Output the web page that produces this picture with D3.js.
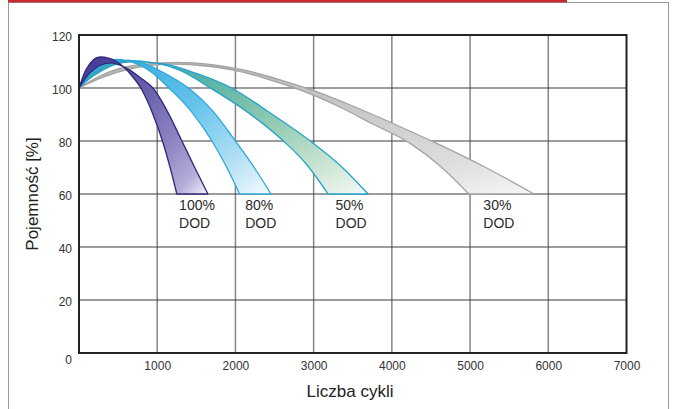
<!DOCTYPE html>
<html>
<head>
<meta charset="utf-8">
<script src="https://cdn.jsdelivr.net/npm/d3@7"></script>
<style>
body { margin: 0; background: #fff; }
text { font-family: Arial, "Liberation Sans", sans-serif; fill: #333; }
</style>
</head>
<body>
<script>
const width = 676, height = 409;

// axis ticks
const xTicks = [1000, 2000, 3000, 4000, 5000, 6000, 7000];
const yTicks = [0, 20, 40, 60, 80, 100, 120];

// capacity [%] vs cycles (each band = inner + outer edge)
const dod100Inner = [[0,100],[90,107],[270,111.7],[480,110],[650,105.5],[790,100],[940,90.5],[1067,80],[1165,70],[1251,60]];
const dod100Outer = [[0,100],[130,105.5],[400,109.5],[600,107.6],[780,104],[950,99.8],[1130,91.2],[1306,80.6],[1480,70],[1648,60]];
const dod80Inner  = [[0,100],[130,106],[480,110.8],[750,109],[950,105.5],[1150,100],[1440,91],[1700,80],[1890,70],[2053,60]];
const dod80Outer  = [[0,100],[150,105.5],[580,110.5],[850,109],[1100,105.5],[1400,100],[1720,91],[2000,80],[2240,70],[2454,60]];
const dod50Inner  = [[0,100],[150,105],[600,110.4],[1000,109.3],[1300,106.5],[1680,100],[2150,91],[2613,80],[2900,71.5],[3184,60]];
const dod50Outer  = [[0,100],[180,104.5],[680,110],[1100,109],[1500,105.5],[1950,100],[2450,90.5],[2958,80],[3350,70.5],[3697,60]];
const dod30Inner  = [[0,100],[300,104],[700,107.5],[1200,109],[1650,108.2],[2050,106.3],[2450,103],[2850,99],[3300,93.3],[3750,86.5],[4238,79],[4620,70.5],[4985,60]];
const dod30Outer  = [[0,100],[300,105],[700,108.5],[1250,109.7],[1700,108.8],[2100,106.8],[2550,103.3],[3000,99],[3500,93.2],[4000,86.8],[4580,79],[5200,70],[5817,60]];

const bandNames  = ["30%", "50%", "80%", "100%"];
const bandLabelX = [5170, 3280, 2125, 1280];

var svg = d3.select("body").append("svg")
    .attr("width", width)
    .attr("height", height);

// frame + red rule on top
svg.append("rect")
    .attr("x", 8.5).attr("y", 2.5)
    .attr("width", 660).attr("height", 430)
    .attr("fill", "none").attr("stroke", "#9a9a9a").attr("stroke-width", 1);
svg.append("rect")
    .attr("x", 8).attr("y", 0)
    .attr("width", 559).attr("height", 2.4)
    .attr("fill", "#c62a2c");

var x = d3.scaleLinear().domain([0, 7000]).range([79, 626.5]);
var y = d3.scaleLinear().domain([0, 120]).range([353, 35]);

// grid
svg.append("g").selectAll("line")
    .data(xTicks.slice(0, -1))
    .enter().append("line")
    .attr("x1", d => x(d)).attr("x2", d => x(d))
    .attr("y1", y(0)).attr("y2", y(120))
    .attr("stroke", "#858585").attr("stroke-width", 1.5);
svg.append("g").selectAll("line")
    .data(yTicks.slice(1, -1))
    .enter().append("line")
    .attr("x1", x(0)).attr("x2", x(7000))
    .attr("y1", d => y(d)).attr("y2", d => y(d))
    .attr("stroke", "#3a3a3a").attr("stroke-width", 1.2);

// gradients
var defs = svg.append("defs");
var gradStops = [
    [[0, "#b2b2b2"], [0.5, "#c9c9c9"], [0.8, "#dedede"], [1, "#f7f7f7"]],
    [[0, "#2aa2b8"], [0.35, "#62b8a6"], [0.62, "#9dd0b8"], [0.85, "#d2e8d9"], [1, "#f6faf6"]],
    [[0, "#2aa6dd"], [0.45, "#62c2ea"], [0.75, "#aadcf3"], [1, "#f5fbfe"]],
    [[0, "#3f3790"], [0.4, "#6b62ae"], [0.7, "#918ac5"], [0.88, "#b5b0da"], [1, "#f5f4fb"]]
];
var strokes = ["#a3a3a3", "#24a2c8", "#2ea6d9", "#2f2879"];
gradStops.forEach(function(stops, i) {
    var g = defs.append("linearGradient")
        .attr("id", "band" + i)
        .attr("x1", 0).attr("y1", 0).attr("x2", 1).attr("y2", 1);
    stops.forEach(s => g.append("stop").attr("offset", s[0]).attr("stop-color", s[1]));
});

var line = d3.line()
    .x(d => x(d[0]))
    .y(d => y(d[1]))
    .curve(d3.curveMonotoneX);

var bands = [
    [dod30Inner, dod30Outer],
    [dod50Inner, dod50Outer],
    [dod80Inner, dod80Outer],
    [dod100Inner, dod100Outer]
];

svg.append("g").selectAll("path")
    .data(bands)
    .enter().append("path")
    .attr("d", d => line(d[0]) + line(d[1].slice().reverse()).replace("M", "L") + "Z")
    .attr("fill", (d, i) => "url(#band" + i + ")")
    .attr("stroke", (d, i) => strokes[i])
    .attr("stroke-width", 1.3)
    .attr("stroke-linejoin", "round");

// plot border
svg.append("rect")
    .attr("x", x(0)).attr("y", y(120))
    .attr("width", x(7000) - x(0)).attr("height", y(0) - y(120))
    .attr("fill", "none").attr("stroke", "#222").attr("stroke-width", 2);

// DOD labels
var lbl = svg.append("g").selectAll("text")
    .data(bandNames)
    .enter().append("text")
    .attr("x", (d, i) => x(bandLabelX[i]))
    .attr("y", y(60) + 16)
    .style("font-size", "14px")
    .style("fill", "#2a2a2a");
lbl.append("tspan").text(d => d);
lbl.append("tspan")
    .attr("x", (d, i) => x(bandLabelX[i]))
    .attr("dy", 18)
    .text("DOD");

// axes
var yAxis = svg.append("g")
    .attr("transform", "translate(" + x(0) + ",0)")
    .call(d3.axisLeft(y).tickValues(yTicks).tickSize(0).tickPadding(7));
var xAxis = svg.append("g")
    .attr("transform", "translate(0," + y(0) + ")")
    .call(d3.axisBottom(x).tickValues(xTicks).tickFormat(d3.format("d")).tickSize(0).tickPadding(8));
[yAxis, xAxis].forEach(function(a) {
    a.select(".domain").remove();
    a.selectAll("text")
        .style("font-size", "12px")
        .style("fill", "#333")
        .attr("font-family", null);
});
yAxis.selectAll("text").attr("dy", d => d === 0 ? "0.9em" : "0.48em");

// axis titles
svg.append("text")
    .attr("transform", "translate(38," + y(60) + ") rotate(-90)")
    .attr("text-anchor", "middle")
    .style("font-size", "17px")
    .style("fill", "#222")
    .text("Pojemność [%]");
svg.append("text")
    .attr("x", 350).attr("y", 397)
    .attr("text-anchor", "middle")
    .style("font-size", "17px")
    .style("fill", "#222")
    .text("Liczba cykli");
</script>
</body>
</html>
